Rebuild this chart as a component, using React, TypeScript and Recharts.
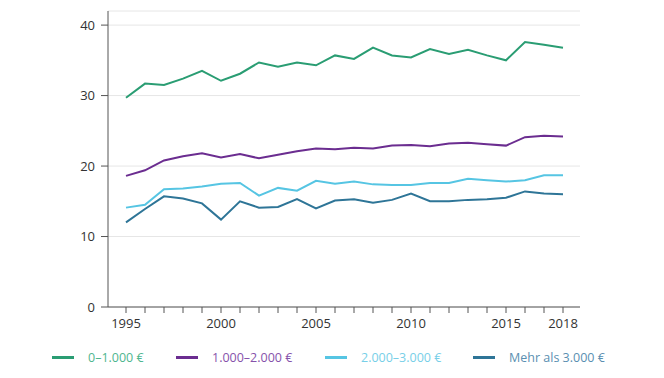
import { CartesianGrid, Line, LineChart, XAxis, YAxis } from "recharts";

const years = [
  1995, 1996, 1997, 1998, 1999, 2000, 2001, 2002, 2003, 2004, 2005, 2006,
  2007, 2008, 2009, 2010, 2011, 2012, 2013, 2014, 2015, 2016, 2017, 2018,
];

const low = [
  29.7, 31.7, 31.5, 32.4, 33.5, 32.1, 33.1, 34.7, 34.1, 34.7, 34.3, 35.7,
  35.2, 36.8, 35.7, 35.4, 36.6, 35.9, 36.5, 35.7, 35.0, 37.6, 37.2, 36.8,
];
const mid = [
  18.6, 19.4, 20.8, 21.4, 21.8, 21.2, 21.7, 21.1, 21.6, 22.1, 22.5, 22.4,
  22.6, 22.5, 22.9, 23.0, 22.8, 23.2, 23.3, 23.1, 22.9, 24.1, 24.3, 24.2,
];
const upper = [
  14.1, 14.5, 16.7, 16.8, 17.1, 17.5, 17.6, 15.8, 16.9, 16.5, 17.9, 17.5,
  17.8, 17.4, 17.3, 17.3, 17.6, 17.6, 18.2, 18.0, 17.8, 18.0, 18.7, 18.7,
];
const high = [
  12.0, 13.9, 15.7, 15.4, 14.7, 12.4, 15.0, 14.1, 14.2, 15.3, 14.0, 15.1,
  15.3, 14.8, 15.2, 16.1, 15.0, 15.0, 15.2, 15.3, 15.5, 16.4, 16.1, 16.0,
];

const labeledYears = [1995, 2000, 2005, 2010, 2015, 2018];
const yTicks = [0, 10, 20, 30, 40];

const SERIES = [
  { key: "low", name: "0\u20131.000 €", color: "#2a9d73", text: "#4fb68f" },
  { key: "mid", name: "1.000\u20132.000 €", color: "#6b2d90", text: "#8652ab" },
  { key: "upper", name: "2.000\u20133.000 €", color: "#56c5e3", text: "#78cfe8" },
  { key: "high", name: "Mehr als 3.000 €", color: "#2e7597", text: "#5a8fb1" },
];

// legend item left edges
const legendX = [52, 176, 325, 473];

const data = years.map((year, i) => ({
  year,
  low: low[i],
  mid: mid[i],
  upper: upper[i],
  high: high[i],
}));

const FONT = "'Open Sans', sans-serif";

// only some years get a label, every year gets a tick mark
const YearTick = ({ x, y, payload }: any) => {
  if (!labeledYears.includes(payload.value)) return null;
  return (
    <text x={x} y={y + 13} fill="#333" fontSize={13} textAnchor="middle" fontFamily={FONT}>
      {payload.value}
    </text>
  );
};

export default function App() {
  return (
    <div style={{ position: "absolute", left: 0, top: 0, width: 664, height: 378, background: "#fff" }}>
      <LineChart
        width={664}
        height={378}
        data={data}
        margin={{ top: 11, right: 84, left: 48, bottom: 41 }}
      >
        <CartesianGrid vertical={false} stroke="#e6e6e6" />
        <XAxis
          dataKey="year"
          type="number"
          domain={[1995, 2018]}
          ticks={years}
          interval={0}
          padding={{ left: 18, right: 17 }}
          tickSize={6}
          tick={<YearTick />}
          axisLine={{ stroke: "#555" }}
          tickLine={{ stroke: "#555" }}
        />
        <YAxis
          domain={[0, 42]}
          ticks={yTicks}
          width={60}
          tickSize={7}
          tickMargin={6}
          axisLine={{ stroke: "#555" }}
          tickLine={{ stroke: "#555" }}
          tick={{ fill: "#333", fontSize: 13, fontFamily: FONT }}
        />
        {SERIES.map((s) => (
          <Line
            key={s.key}
            dataKey={s.key}
            name={s.name}
            type="linear"
            stroke={s.color}
            strokeWidth={2}
            dot={false}
            isAnimationActive={false}
          />
        ))}
      </LineChart>
      {SERIES.map((s, i) => (
        <div
          key={s.key}
          style={{
            position: "absolute",
            left: legendX[i],
            top: 348,
            height: 18,
            display: "flex",
            alignItems: "center",
            fontFamily: FONT,
            fontSize: 12.5,
            whiteSpace: "nowrap",
          }}
        >
          <span style={{ display: "inline-block", width: 22, height: 3, background: s.color, marginRight: 14 }} />
          <span style={{ color: s.text }}>{s.name}</span>
        </div>
      ))}
    </div>
  );
}
